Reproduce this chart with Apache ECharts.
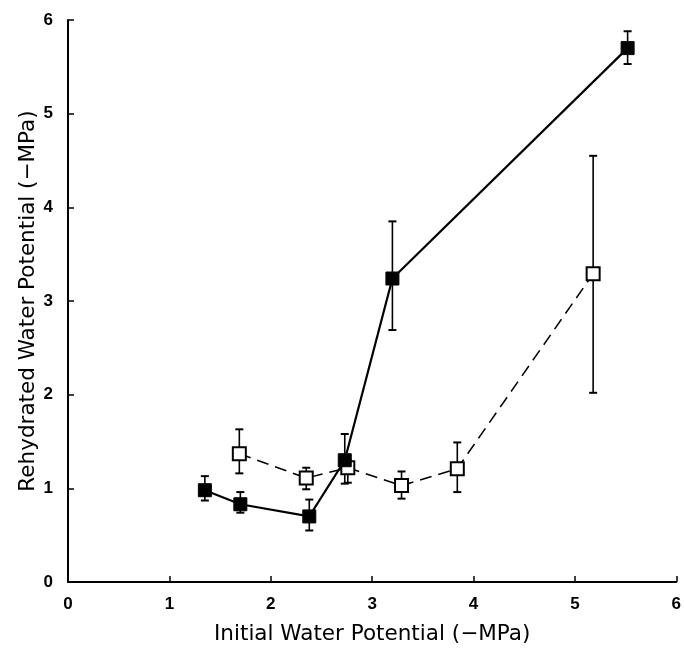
<!DOCTYPE html>
<html><head><meta charset="utf-8">
<script src="https://cdn.jsdelivr.net/npm/echarts@6/dist/echarts.min.js"></script>
<style>html,body{margin:0;padding:0;background:#fff}#c{width:684px;height:650px}</style>
</head><body><div id="c"></div>
<script>
var filledX = [1.35, 1.70, 2.38, 2.73, 3.20, 5.52];
var filledY = [0.98, 0.83, 0.70, 1.30, 3.24, 5.70];
var filledHi = [1.13, 0.96, 0.88, 1.58, 3.85, 5.88];
var filledLo = [0.87, 0.74, 0.55, 1.05, 2.69, 5.53];
var openX = [1.69, 2.35, 2.76, 3.29, 3.84, 5.18];
var openY = [1.37, 1.11, 1.22, 1.03, 1.21, 3.29];
var openHi = [1.63, 1.22, 1.30, 1.18, 1.49, 4.55];
var openLo = [1.16, 0.99, 1.06, 0.89, 0.96, 2.02];
var tickLabels = ['0','1','2','3','4','5','6'];

function pts(xs, ys){ return xs.map(function(x,i){return [x, ys[i]];}); }
function errs(xs, lo, hi){ return xs.map(function(x,i){return [x, lo[i], hi[i]];}); }

function errRender(params, api){
  var x = api.value(0);
  var lo = api.coord([x, api.value(1)]);
  var hi = api.coord([x, api.value(2)]);
  var w = 4;
  var st = {stroke:'#000', lineWidth:1.6};
  return {type:'group', children:[
    {type:'line', shape:{x1:lo[0],y1:lo[1],x2:hi[0],y2:hi[1]}, style:st},
    {type:'line', shape:{x1:lo[0]-w,y1:lo[1],x2:lo[0]+w,y2:lo[1]}, style:{stroke:'#000',lineWidth:2}},
    {type:'line', shape:{x1:hi[0]-w,y1:hi[1],x2:hi[0]+w,y2:hi[1]}, style:{stroke:'#000',lineWidth:2}}
  ]};
}

var font = 'Liberation Sans, Arial, sans-serif';
var nameFont = 'DejaVu Sans, sans-serif';
var chart = echarts.init(document.getElementById('c'));
chart.setOption({
  animation:false,
  backgroundColor:'#fff',
  grid:{left:68, right:4, top:20, bottom:67},
  xAxis:{type:'value', min:0, max:6, interval:1,
    name:'Initial Water Potential (\u2212MPa)', nameLocation:'middle', nameGap:41, nameMoveOverlap:false,
    nameTextStyle:{fontFamily:nameFont, fontSize:21.5, color:'#000'},
    axisLine:{lineStyle:{color:'#000', width:2}},
    axisTick:{inside:true, length:6, lineStyle:{color:'#000', width:1.5}},
    axisLabel:{margin:14, fontFamily:font, fontSize:17, fontWeight:'bold', color:'#000',
      formatter:function(v){return tickLabels[Math.round(v)];}},
    splitLine:{show:false}},
  yAxis:{type:'value', min:0, max:6, interval:1,
    name:'Rehydrated Water Potential (\u2212MPa)', nameLocation:'middle', nameGap:29, nameMoveOverlap:false,
    nameTextStyle:{fontFamily:nameFont, fontSize:21.5, color:'#000'},
    axisLine:{show:true, lineStyle:{color:'#000', width:2}},
    axisTick:{show:true, inside:true, length:6, lineStyle:{color:'#000', width:1.5}},
    axisLabel:{margin:15, fontFamily:font, fontSize:17, fontWeight:'bold', color:'#000',
      formatter:function(v){return tickLabels[Math.round(v)];}},
    splitLine:{show:false}},
  series:[
    {type:'custom', renderItem:errRender, data:errs(openX, openLo, openHi), z:1},
    {type:'custom', renderItem:errRender, data:errs(filledX, filledLo, filledHi), z:1},
    {type:'line', data:pts(openX, openY), symbol:'rect', symbolSize:13,
      lineStyle:{color:'#000', width:1.5, type:[12,7]},
      itemStyle:{color:'#fff', borderColor:'#000', borderWidth:2}, z:3},
    {type:'line', data:pts(filledX, filledY), symbol:'rect', symbolSize:13,
      lineStyle:{color:'#000', width:2.2},
      itemStyle:{color:'#000', borderColor:'#000', borderWidth:1}, z:4}
  ]
});
</script></body></html>
